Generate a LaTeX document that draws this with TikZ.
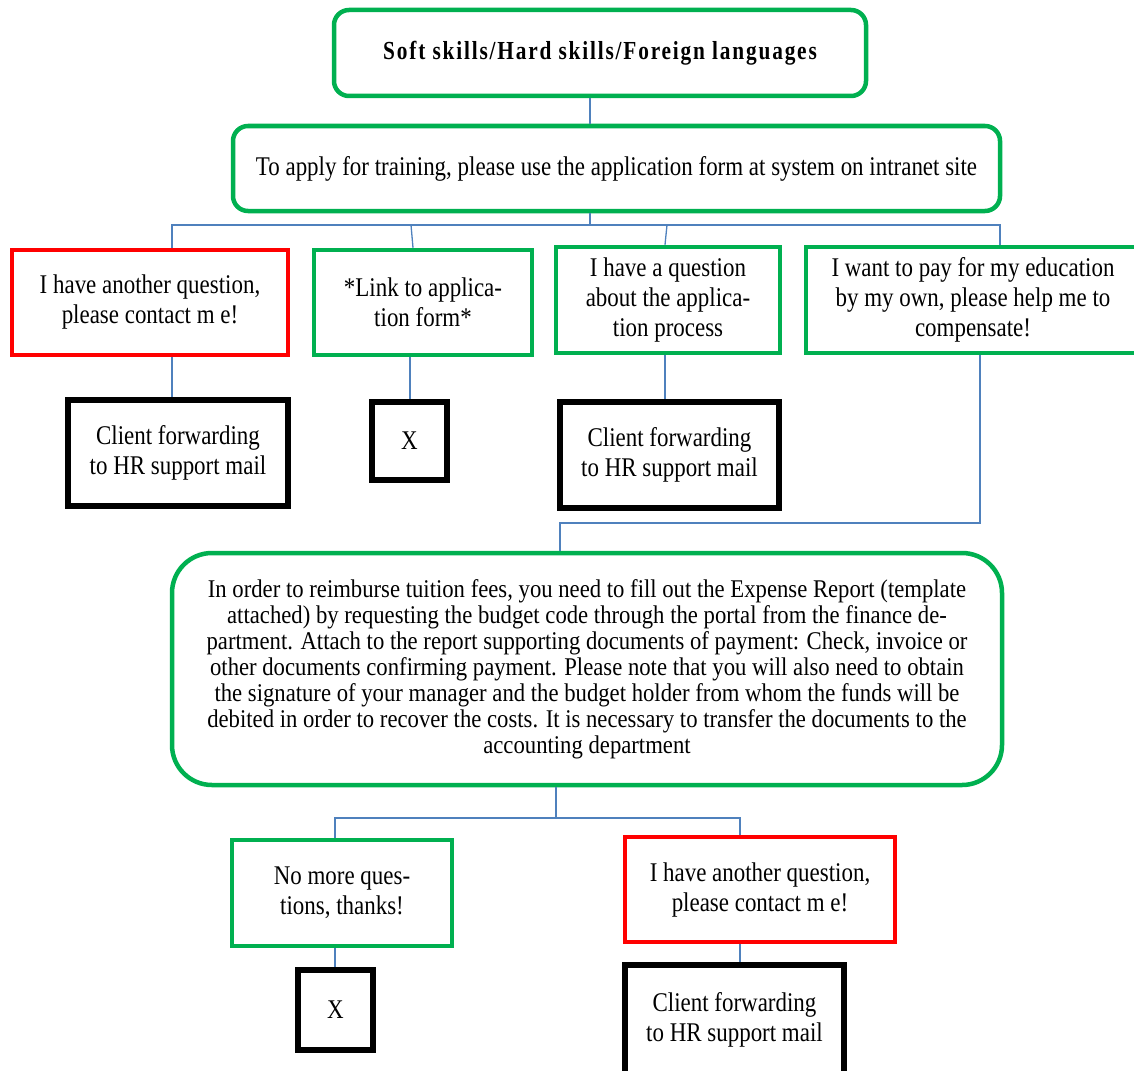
\documentclass[tikz,border=0pt]{standalone}
\usepackage{fontspec}
\setmainfont{Liberation Serif}[FakeStretch=0.85]
\newfontfamily\bigfont{Liberation Serif}[FakeStretch=0.89]
\newfontfamily\titlefont{Liberation Serif}[FakeStretch=0.82, LetterSpace=7]
\definecolor{hgreen}{HTML}{00B050}
\definecolor{hred}{HTML}{FF0000}
\definecolor{hblue}{HTML}{4F81BD}
\begin{document}
\begin{tikzpicture}[x=1pt,y=-1pt,
  box/.style={draw, line width=4.5pt, align=center, inner sep=0pt,
    font=\fontsize{27}{30}\selectfont},
  gbox/.style={box, draw=hgreen},
  rbox/.style={box, draw=hred},
  kbox/.style={box, draw=black, line width=5.5pt},
  conn/.style={draw=hblue, line width=1.3pt}]
\useasboundingbox (0,0) rectangle (1134,1070);
% nodes
\node[gbox, rounded corners=15pt, minimum width=532pt, minimum height=86pt,
  font=\titlefont\fontsize{26}{28}\selectfont\bfseries] (top) at (600,53)
  {Soft skills/Hard skills/Foreign languages};
\node[gbox, rounded corners=15pt, minimum width=767pt, minimum height=85pt] (app) at (616.5,168.5)
  {To apply for training, please use the application form at system on intranet site};
\node[rbox, minimum width=276pt, minimum height=105pt] (q1) at (150,302.5)
  {I have another question,\\please contact m e!};
\node[gbox, minimum width=218pt, minimum height=105pt] (link) at (423,302.5)
  {*Link to applica-\\tion form*};
\node[gbox, minimum width=224pt, minimum height=106pt] (qa) at (668,300)
  {I have a question\\about the applica-\\tion process};
\node[gbox, minimum width=334pt, minimum height=106pt] (pay) at (973,300)
  {I want to pay for my education\\by my own, please help me to\\compensate!};
\node[kbox, minimum width=220pt, minimum height=106pt] (c1) at (178,453)
  {Client forwarding\\to HR support mail};
\node[kbox, minimum width=75pt, minimum height=78pt] (x1) at (409.5,441) {X};
\node[kbox, minimum width=219pt, minimum height=106pt] (c2) at (669.5,455)
  {Client forwarding\\to HR support mail};
\node[gbox, rounded corners=40pt, minimum width=830pt, minimum height=232pt,
  font=\bigfont\fontsize{25.5}{26}\selectfont] (big) at (587,669)
  {In order to reimburse tuition fees, you need to fill out the Expense Report (template\\
   attached) by requesting the budget code through the portal from the finance de-\\
   partment. Attach to the report supporting documents of payment: Check, invoice or\\
   other documents confirming payment. Please note that you will also need to obtain\\
   the signature of your manager and the budget holder from whom the funds will be\\
   debited in order to recover the costs. It is necessary to transfer the documents to the\\
   accounting department};
\node[gbox, minimum width=220pt, minimum height=106pt] (nomore) at (342,893)
  {No more ques-\\tions, thanks!};
\node[rbox, minimum width=270pt, minimum height=105pt] (q2) at (760,889.5)
  {I have another question,\\please contact m e!};
\node[kbox, minimum width=75pt, minimum height=80pt] (x2) at (335.5,1010) {X};
\node[kbox, minimum width=219pt, minimum height=110pt] (c3) at (734.5,1020)
  {Client forwarding\\to HR support mail};
% connectors
\coordinate (j1) at (590,225);
\coordinate (j2) at (980,523);
\coordinate (j3) at (556,818);
\draw[conn] (590,0 |- top.south) -- (590,0 |- app.north);
\draw[conn] (j1 |- app.south) -- (j1);
\draw[conn] (172,0 |- q1.north) -- (172,0 |- j1) -- (1000,0 |- j1) -- (1000,0 |- pay.north);
\draw[conn] (411,0 |- j1) -- (413,0 |- link.north);
\draw[conn] (667,0 |- j1) -- (665,0 |- qa.north);
\draw[conn] (172,0 |- q1.south) -- (172,0 |- c1.north);
\draw[conn] (410,0 |- link.south) -- (410,0 |- x1.north);
\draw[conn] (665,0 |- qa.south) -- (665,0 |- c2.north);
\draw[conn] (980,0 |- pay.south) -- (j2) -- (560,0 |- j2) -- (560,0 |- big.north);
\draw[conn] (j3 |- big.south) -- (j3);
\draw[conn] (335,0 |- nomore.north) -- (335,0 |- j3) -- (740,0 |- j3) -- (740,0 |- q2.north);
\draw[conn] (335,0 |- nomore.south) -- (335,0 |- x2.north);
\draw[conn] (740,0 |- q2.south) -- (740,0 |- c3.north);
\end{tikzpicture}
\end{document}
